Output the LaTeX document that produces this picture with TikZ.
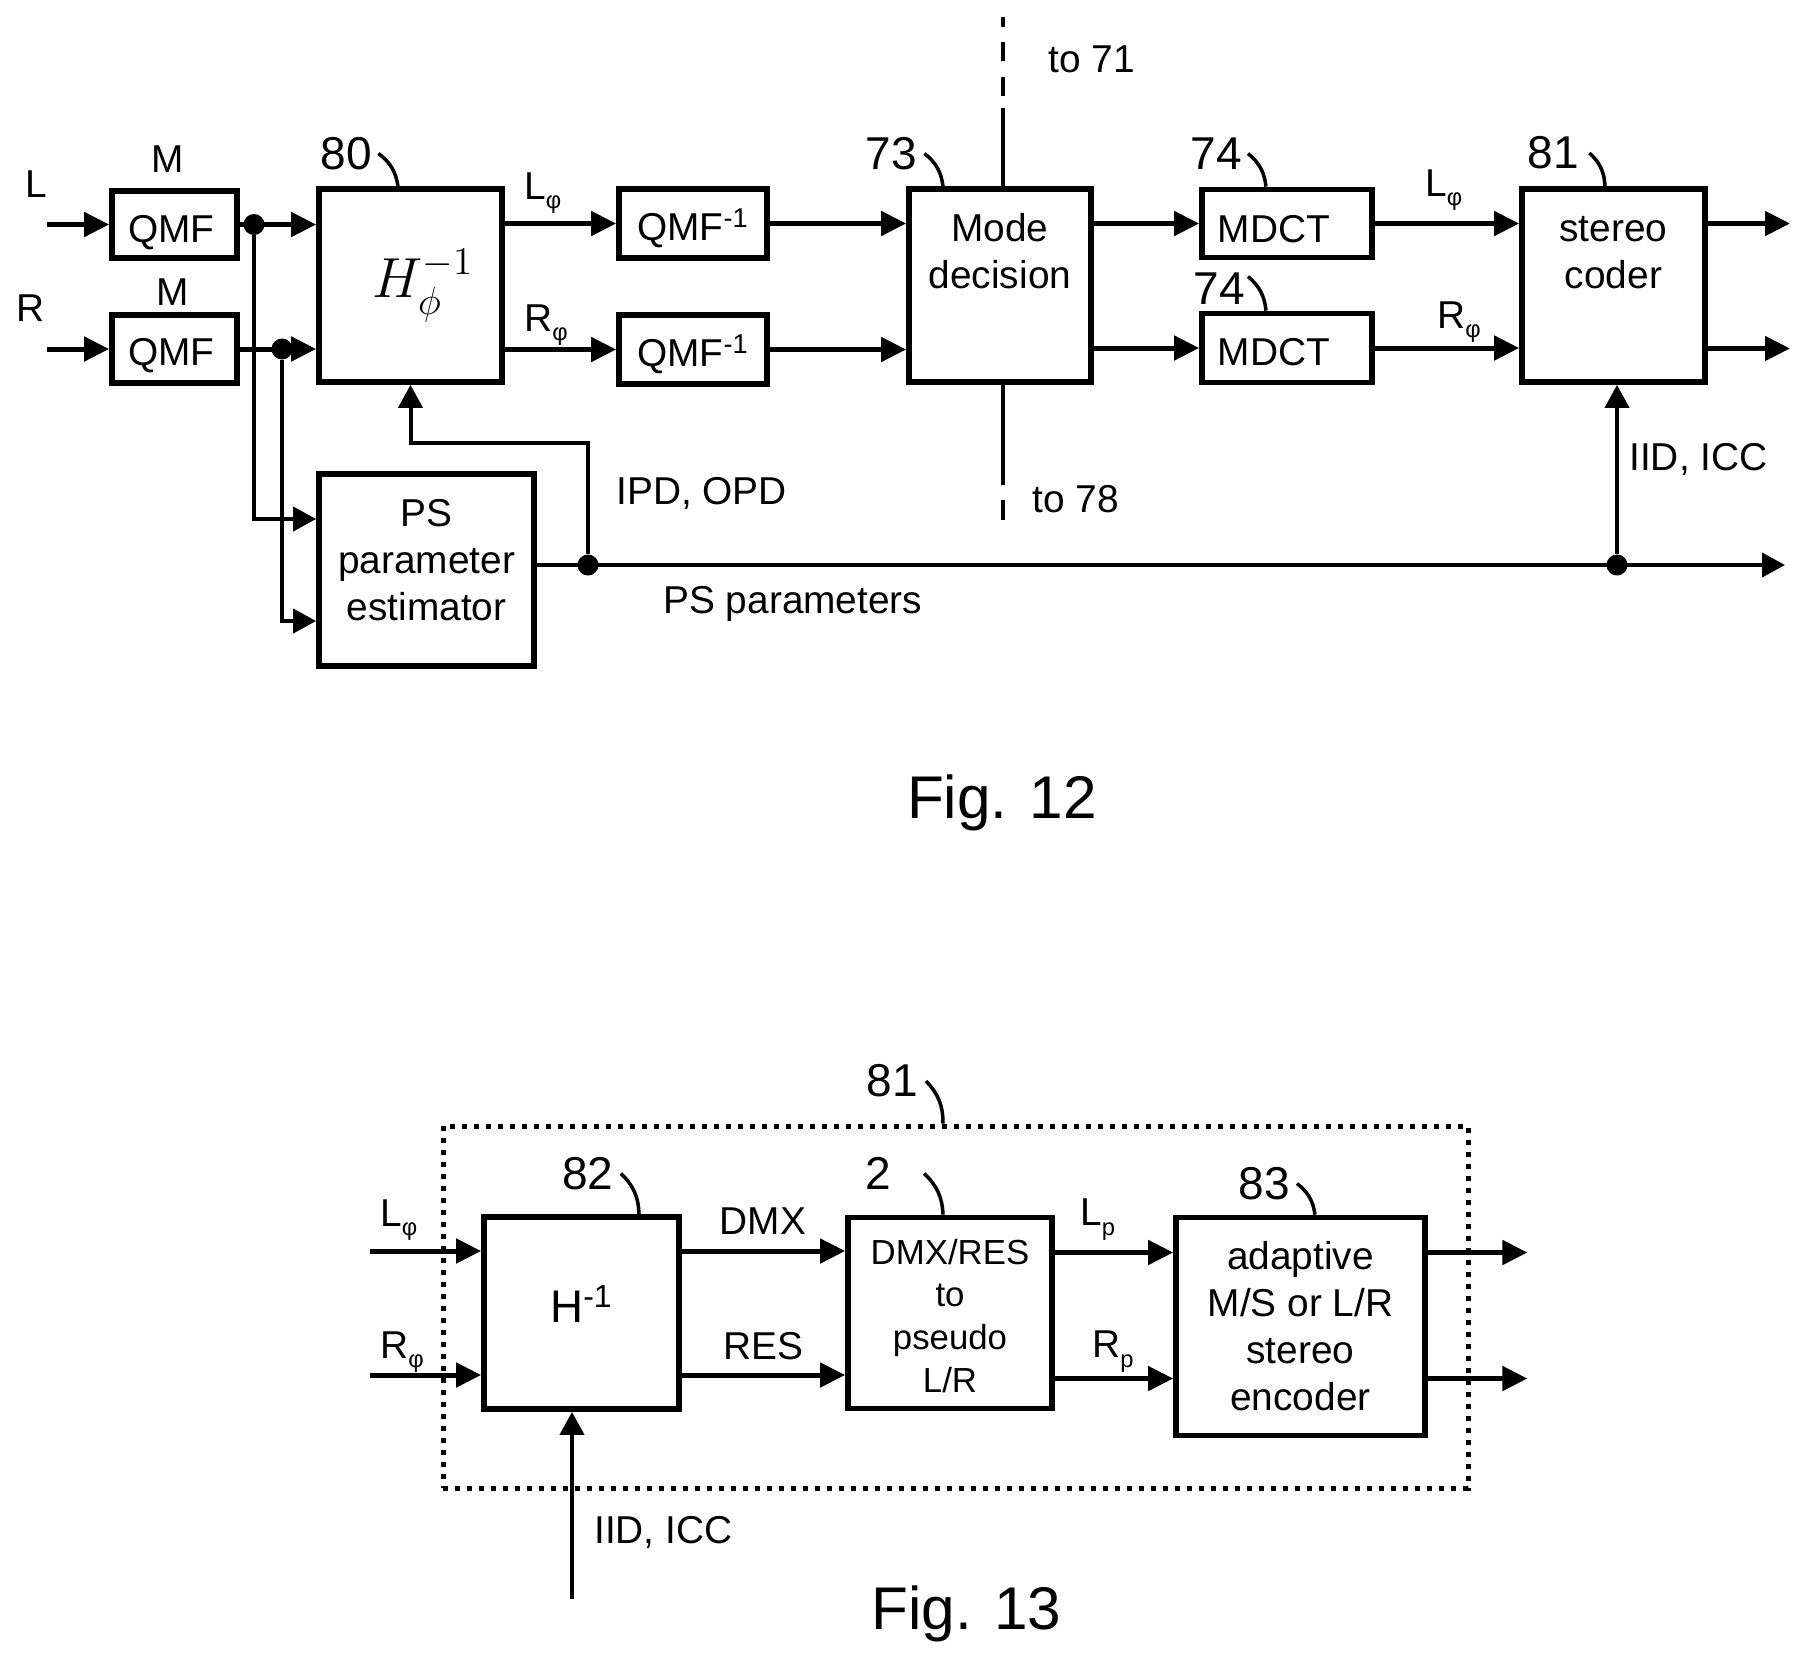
\documentclass[tikz,border=0pt]{standalone}
\usepackage{amsmath}
\usepackage[no-math]{fontspec}
\setmainfont{Liberation Sans}
\usepackage{tikz}
\usetikzlibrary{positioning,arrows.meta}
\newcommand{\lowsub}[1]{\raisebox{-.19cm}{\fontsize{13.5}{13.5}\selectfont #1}}
\tikzset{
    txt/.style={inner sep=0pt, font=\fontsize{22.1}{26.75}\selectfont, align=center},
    refnum/.style={inner sep=0pt, font=\fontsize{26.2}{30}\selectfont},
    figlabel/.style={inner sep=0pt, font=\fontsize{34.3}{40}\selectfont},
    block/.style={draw, line width=.115cm, inner sep=0pt, align=center, font=\fontsize{22.1}{26.75}\selectfont},
    junction/.style={circle, fill=black, inner sep=0pt, minimum size=.42cm},
    sig/.style={line width=.1cm, -{Triangle[length=.5cm,width=.48cm]}},
    thinsig/.style={line width=.08cm, -{Triangle[length=.46cm,width=.48cm]}},
    leader/.style={line width=.07cm, bend left=22},
}
\begin{document}
\begin{tikzpicture}
    \useasboundingbox (-3.49,4.49) rectangle (32.71,-28.81);

    % Fig. 12, upper row
    \node[block, minimum width=2.5cm, minimum height=1.34cm, text height=.72cm, text depth=0pt] (qmf_l) {QMF\hspace{.12cm}};
    \node[block, minimum width=2.5cm, minimum height=1.36cm, text height=.67cm, text depth=0pt, below of=qmf_l, node distance=2.49cm] (qmf_r) {QMF\hspace{.12cm}};
    \node[block, minimum width=3.66cm, minimum height=3.86cm, right of=qmf_l, node distance=4.72cm, yshift=-1.22cm, font=\fontsize{20}{24}\selectfont] (hinv) {\hspace*{.5cm}\raisebox{-.12cm}{\scalebox{1.55}{$H_\phi^{-1}$}}};
    \node[block, minimum width=4.3cm, minimum height=3.84cm, text depth=.42cm, below of=hinv, node distance=5.69cm, xshift=.32cm] (ps_est) {PS\\parameter\\estimator};
    \node[block, minimum width=2.96cm, minimum height=1.38cm, text height=.69cm, text depth=0pt, right of=hinv, node distance=5.65cm, yshift=1.24cm] (qmfi_l) {QMF\textsuperscript{-1}};
    \node[block, minimum width=2.96cm, minimum height=1.38cm, text height=.675cm, text depth=0pt, below of=qmfi_l, node distance=2.52cm] (qmfi_r) {QMF\textsuperscript{-1}};
    \node[block, minimum width=3.64cm, minimum height=3.86cm, right of=hinv, node distance=11.79cm] (mode) {};
    \node[txt, above of=mode, node distance=.68cm] (mode_txt) {Mode\\decision};
    \node[block, minimum width=3.4cm, minimum height=1.36cm, text height=.76cm, text depth=0pt, right of=qmfi_l, node distance=11.88cm] (mdct_l) {MDCT\hspace{.52cm}};
    \node[block, minimum width=3.4cm, minimum height=1.38cm, text height=.68cm, text depth=0pt, below of=mdct_l, node distance=2.49cm] (mdct_r) {MDCT\hspace{.52cm}};
    \node[block, minimum width=3.66cm, minimum height=3.86cm, right of=mode, node distance=12.27cm] (coder) {};
    \node[txt, above of=coder, node distance=.65cm] (coder_txt) {stereo\\coder};

    % free ends
    \coordinate[left of=qmf_l, node distance=2.55cm] (in_l);
    \coordinate[left of=qmf_r, node distance=2.55cm] (in_r);
    \coordinate[right of=coder, node distance=3.53cm, yshift=1.24cm] (out_l);
    \coordinate[right of=coder, node distance=3.53cm, yshift=-1.26cm] (out_r);
    \coordinate (top_m) at ([xshift=.06cm]mode.north);
    \coordinate (bot_m) at ([xshift=.06cm]mode.south);
    \coordinate[above of=top_m, node distance=3.38cm] (to_t);
    \coordinate[below of=bot_m, node distance=2.7cm] (to_b);

    % junctions
    \node[junction, right of=qmf_l, node distance=1.59cm] (j_l) {};
    \node[junction, right of=qmf_r, node distance=2.15cm] (j_r) {};
    \node[junction, right of=ps_est, node distance=3.23cm, yshift=.1cm] (j_p) {};
    \node[junction, right of=j_p, node distance=20.58cm] (j_s) {};
    \coordinate[right of=j_s, node distance=3.36cm] (out_p);

    % connectors
    \draw[sig] (in_l) -- (qmf_l.west);
    \draw[sig] (in_r) -- (qmf_r.west);
    \draw[sig] (qmf_l.east) -- (qmf_l.east -| hinv.west);
    \draw[sig] (qmf_r.east) -- (qmf_r.east -| hinv.west);
    \draw[thinsig] (j_l) |- ([yshift=1.02cm]ps_est.west);
    \draw[thinsig] (j_r) |- ([yshift=-1.02cm]ps_est.west);
    \draw[sig] (hinv.east |- qmfi_l) -- (qmfi_l.west);
    \draw[sig] (hinv.east |- qmfi_r) -- (qmfi_r.west);
    \draw[sig] (qmfi_l.east) -- (qmfi_l.east -| mode.west);
    \draw[sig] (qmfi_r.east) -- (qmfi_r.east -| mode.west);
    \draw[sig] (mode.east |- mdct_l) -- (mdct_l.west);
    \draw[sig] (mode.east |- mdct_r) -- (mdct_r.west);
    \draw[sig] (mdct_l.east) -- (mdct_l.east -| coder.west);
    \draw[sig] (mdct_r.east) -- (mdct_r.east -| coder.west);
    \draw[sig] (coder.east |- out_l) -- (out_l);
    \draw[sig] (coder.east |- out_r) -- (out_r);
    \draw[line width=.09cm, dash pattern=on 1.56cm off .24cm on .38cm off .32cm on .38cm off .3cm on .2cm] (top_m) -- (to_t);
    \draw[line width=.09cm, dash pattern=on 2cm off .3cm on .4cm] (bot_m) -- (to_b);
    \draw[thinsig] (ps_est.east |- j_p) -- (out_p);
    \draw[thinsig] (j_p) -- ++(0,2.44) -| (hinv.south);
    \draw[thinsig] (j_s) -- (j_s |- coder.south);

    % labels
    \node[txt, above of=in_l, node distance=.81cm, xshift=-.22cm] (lab_l) {L};
    \node[txt, above of=in_r, node distance=.81cm, xshift=-.32cm] (lab_r) {R};
    \node[txt, above of=qmf_l, node distance=1.31cm, xshift=-.13cm] (lab_m1) {M};
    \node[txt, above of=qmf_r, node distance=1.13cm, xshift=-.03cm] (lab_m2) {M};
    \node[txt, right of=hinv, node distance=2.27cm, yshift=1.73cm, anchor=base west] (lab_lp1) {L\lowsub{φ}};
    \node[txt, right of=hinv, node distance=2.27cm, yshift=-.91cm, anchor=base west] (lab_rp1) {R\lowsub{φ}};
    \node[txt, left of=coder, node distance=3.77cm, yshift=1.79cm, anchor=base west] (lab_lp2) {L\lowsub{φ}};
    \node[txt, left of=coder, node distance=3.53cm, yshift=-.85cm, anchor=base west] (lab_rp2) {R\lowsub{φ}};
    \node[txt, right of=ps_est, node distance=3.79cm, yshift=1.32cm, anchor=base west] (lab_ipd) {IPD, OPD};
    \node[txt, right of=ps_est, node distance=4.73cm, yshift=-.86cm, anchor=base west] (lab_ps) {PS parameters};
    \node[txt, right of=mode, node distance=.96cm, yshift=4.27cm, anchor=base west] (lab_71) {to 71};
    \node[txt, right of=mode, node distance=.64cm, yshift=-4.53cm, anchor=base west] (lab_78) {to 78};
    \node[txt, right of=coder, node distance=.31cm, yshift=-3.69cm, anchor=base west] (lab_iid) {IID, ICC};

    % reference numbers
    \node[refnum, above of=hinv, node distance=2.64cm, xshift=-1.28cm] (ref_80) {80};
    \node[refnum, above of=mode, node distance=2.64cm, xshift=-2.17cm] (ref_73) {73};
    \node[refnum, above of=mdct_l, node distance=1.4cm, xshift=-1.42cm] (ref_74a) {74};
    \node[refnum, above of=mdct_r, node distance=1.19cm, xshift=-1.36cm] (ref_74b) {74};
    \node[refnum, above of=coder, node distance=2.65cm, xshift=-1.2cm] (ref_81) {81};
    \draw[leader] ([xshift=.12cm]ref_80.east) to ([xshift=-.25cm]hinv.north);
    \draw[leader] ([xshift=.14cm]ref_73.east) to ([xshift=-1.14cm]mode.north);
    \draw[leader] ([xshift=.12cm]ref_74a.east) to ([xshift=-.42cm]mdct_l.north);
    \draw[leader] ([xshift=.06cm,yshift=.24cm]ref_74b.east) to ([xshift=-.42cm]mdct_r.north);
    \draw[leader] ([xshift=.2cm]ref_81.east) to ([xshift=-.17cm]coder.north);

    \node[figlabel, below of=mode, node distance=10.65cm, xshift=.04cm, anchor=base] (fig_a) {Fig. 12};

    % Fig. 13
    \node[block, minimum width=3.9cm, minimum height=3.84cm, text depth=.36cm, below of=hinv, node distance=20.55cm, xshift=3.42cm, font=\fontsize{26}{30}\selectfont] (hinv_b) {H\textsuperscript{-1}};
    \node[block, minimum width=4.08cm, minimum height=3.82cm, text height=3.18cm, right of=hinv_b, node distance=7.37cm, font=\fontsize{19.8}{24.3}\selectfont] (dmx_lr) {DMX/RES\\to\\pseudo\\L/R};
    \node[block, minimum width=4.98cm, minimum height=4.36cm, right of=dmx_lr, node distance=7.01cm, yshift=-.27cm] (enc) {adaptive\\M/S or L/R\\stereo\\encoder};
    \node[draw, line width=.1cm, dash pattern=on .1cm off .14cm, minimum width=20.5cm, minimum height=7.24cm, right of=hinv_b, node distance=7.48cm, yshift=.12cm] (frame) {};

    \coordinate[left of=hinv_b, node distance=4.23cm, yshift=1.24cm] (in_lb);
    \coordinate[left of=hinv_b, node distance=4.23cm, yshift=-1.24cm] (in_rb);
    \coordinate (out_lb) at ([xshift=1.99cm,yshift=1.48cm]enc.east);
    \coordinate (out_rb) at ([xshift=1.99cm,yshift=-1.04cm]enc.east);
    \coordinate (in_c) at ([xshift=-.19cm,yshift=-3.74cm]hinv_b.south);

    \draw[sig] (in_lb) -- (in_lb -| hinv_b.west);
    \draw[sig] (in_rb) -- (in_rb -| hinv_b.west);
    \draw[sig] ([yshift=1.24cm]hinv_b.east) -- ([yshift=1.24cm]hinv_b.east -| dmx_lr.west);
    \draw[sig] ([yshift=-1.24cm]hinv_b.east) -- ([yshift=-1.24cm]hinv_b.east -| dmx_lr.west);
    \draw[sig] ([yshift=1.48cm]enc.west -| dmx_lr.east) -- ([yshift=1.48cm]enc.west);
    \draw[sig] ([yshift=-1.04cm]enc.west -| dmx_lr.east) -- ([yshift=-1.04cm]enc.west);
    \draw[sig] ([yshift=1.48cm]enc.east) -- (out_lb);
    \draw[sig] ([yshift=-1.04cm]enc.east) -- (out_rb);
    \draw[thinsig] (in_c) -- (in_c |- hinv_b.south);

    \node[txt, right of=hinv_b, node distance=3.63cm, yshift=1.84cm] (lab_dmx) {DMX};
    \node[txt, right of=hinv_b, node distance=3.63cm, yshift=-.66cm] (lab_res) {RES};
    \node[txt, left of=hinv_b, node distance=4.03cm, yshift=1.74cm, anchor=base west] (lab_lp3) {L\lowsub{φ}};
    \node[txt, left of=hinv_b, node distance=4.03cm, yshift=-.9cm, anchor=base west] (lab_rp3) {R\lowsub{φ}};
    \node[txt, left of=enc, node distance=4.41cm, yshift=2.02cm, anchor=base west] (lab_lq) {L\lowsub{p}};
    \node[txt, left of=enc, node distance=4.17cm, yshift=-.62cm, anchor=base west] (lab_rq) {R\lowsub{p}};
    \node[txt, right of=hinv_b, node distance=.25cm, yshift=-4.6cm, anchor=base west] (lab_iid_b) {IID, ICC};

    \node[refnum, above of=frame, node distance=4.52cm, xshift=-1.27cm] (ref_81b) {81};
    \node[refnum, above of=hinv_b, node distance=2.79cm, xshift=.13cm] (ref_82) {82};
    \node[refnum, above of=dmx_lr, node distance=2.79cm, xshift=-1.44cm] (ref_2) {2};
    \node[refnum, above of=enc, node distance=2.86cm, xshift=-.73cm] (ref_83) {83};
    \draw[leader] ([xshift=.16cm]ref_81b.east) to ([xshift=-.25cm]frame.north);
    \draw[leader] ([xshift=.14cm]ref_82.east) to ([xshift=1.15cm]hinv_b.north);
    \draw[leader] ([xshift=.66cm]ref_2.east) to ([xshift=-.14cm]dmx_lr.north);
    \draw[leader] ([xshift=.14cm]ref_83.east) to ([xshift=.29cm]enc.north);

    \node[figlabel, below of=dmx_lr, node distance=6.33cm, xshift=.33cm, anchor=base] (fig_b) {Fig. 13};
\end{tikzpicture}
\end{document}
